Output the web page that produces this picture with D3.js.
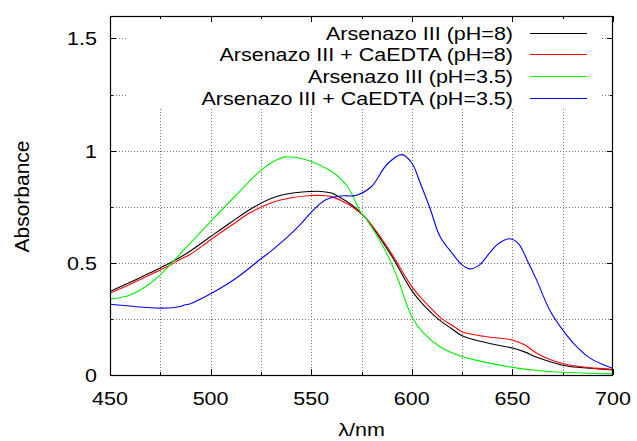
<!DOCTYPE html>
<html>
<head>
<meta charset="utf-8">
<script src="https://cdn.jsdelivr.net/npm/d3@7/dist/d3.min.js"></script>
<style>
  html, body { margin: 0; padding: 0; background: #fff; }
  text { font-family: "Liberation Sans", Arial, Helvetica, sans-serif; fill: #000; }
</style>
</head>
<body>
<svg id="chart" width="637" height="441"></svg>
<script>
// ---- data ----
const seriesNames = [
  "Arsenazo III (pH=8)",
  "Arsenazo III + CaEDTA (pH=8)",
  "Arsenazo III (pH=3.5)",
  "Arsenazo III + CaEDTA (pH=3.5)"
];
const seriesColors = ["#000000", "#ff0000", "#00ee00", "#0000ff"];

const blackWl = [450,460,470,480,490,500,510,520,530,540,550,555,560,565,570,576.7,582,590,600,606,613,620,625,632,640,650,656,662.5,670,677,688,700];
const blackAbs = [0.372,0.413,0.456,0.500,0.553,0.617,0.680,0.740,0.787,0.810,0.818,0.818,0.811,0.788,0.759,0.704,0.640,0.530,0.376,0.310,0.250,0.205,0.175,0.155,0.138,0.120,0.103,0.078,0.056,0.040,0.030,0.022];

const redWl = [450,460,470,480,485,490,500,510,520,530,540,550,555,560,565,570,576.7,582,590,600,606,615,620,625,632,640,650,656,662.5,670,677,688,700];
const redAbs = [0.365,0.405,0.447,0.490,0.516,0.538,0.603,0.665,0.725,0.767,0.790,0.800,0.800,0.795,0.777,0.752,0.704,0.645,0.540,0.394,0.330,0.250,0.222,0.193,0.178,0.167,0.156,0.135,0.095,0.065,0.047,0.033,0.025];

const greenWl = [450,460,470,475,487.5,500,512.5,525,531,537,545,550,560,568,575,576.7,587.5,593,600,606,614,625,637.5,650,662.5,675,687.5,700];
const greenAbs = [0.338,0.357,0.408,0.446,0.565,0.684,0.800,0.912,0.950,0.972,0.965,0.952,0.908,0.840,0.719,0.704,0.543,0.430,0.260,0.185,0.126,0.082,0.055,0.034,0.020,0.012,0.008,0.005];

const blueWl = [450,462,475,481,485,487,490,500,512.5,525,530,535,540,545,550,557,565,572,580,587.5,595,600,604,609,614,620,625,628.8,633.7,638.3,643,648.8,653,658,662,668.5,675,681,687.5,694,700];
const blueAbs = [0.315,0.305,0.298,0.300,0.305,0.312,0.318,0.362,0.430,0.518,0.552,0.590,0.630,0.675,0.725,0.780,0.798,0.800,0.840,0.937,0.982,0.945,0.860,0.744,0.617,0.543,0.491,0.473,0.491,0.540,0.585,0.607,0.585,0.499,0.424,0.290,0.201,0.135,0.082,0.050,0.030];

const xTicks = [450, 500, 550, 600, 650, 700];
const xGrid = [475, 500, 525, 550, 575, 600, 625, 650, 675];
const yTicks = [0, 0.5, 1, 1.5];
const yTickLabels = ["0", "0.5", "1", "1.5"];
const yGrid = [0.25, 0.5, 0.75, 1, 1.25, 1.5];

// ---- layout ----
const svg = d3.select("#chart");
const L = 110, R = 613, T = 16, B = 375;
const x = d3.scaleLinear().domain([450, 700]).range([L, R]);
const y = d3.scaleLinear().domain([0, 1.6]).range([B, T]);
const FS = 21.5;
const SQ = 0.88; // vertical squeeze of horizontal texts

function sqText(px, py, str, anchor) {
  return svg.append("text")
    .attr("transform", `translate(${px},${py}) scale(1,${SQ})`)
    .attr("text-anchor", anchor).attr("font-size", FS).text(str);
}

// grid
const grid = svg.append("g").attr("stroke", "#777").attr("stroke-width", 1).attr("stroke-dasharray", "1,2").attr("fill", "none");
xGrid.forEach(v => grid.append("line").attr("x1", Math.round(x(v)) + 0.5).attr("x2", Math.round(x(v)) + 0.5).attr("y1", T).attr("y2", B));
yGrid.forEach(v => grid.append("line").attr("x1", L).attr("x2", R).attr("y1", Math.round(y(v)) + 0.5).attr("y2", Math.round(y(v)) + 0.5));

// legend box (opaque, hides grid)
svg.append("rect").attr("x", 127).attr("y", T + 1).attr("width", 600 - 127).attr("height", 108 - T - 1).attr("fill", "#fff");

// ticks
const tk = svg.append("g").attr("stroke", "#000").attr("stroke-width", 1);
d3.range(450, 701, 25).forEach(v => {
  const len = (v % 50 === 0) ? 6 : 3;
  const px = Math.round(x(v)) + 0.5;
  tk.append("line").attr("x1", px).attr("x2", px).attr("y1", B).attr("y2", B - len);
  tk.append("line").attr("x1", px).attr("x2", px).attr("y1", T).attr("y2", T + len);
});
d3.range(0, 1.61, 0.25).forEach(v => {
  const len = (Math.abs(v * 2 - Math.round(v * 2)) < 1e-6) ? 6 : 3;
  const py = Math.round(y(v)) + 0.5;
  tk.append("line").attr("x1", L).attr("x2", L + len).attr("y1", py).attr("y2", py);
  tk.append("line").attr("x1", R).attr("x2", R - len).attr("y1", py).attr("y2", py);
});

// tick labels
xTicks.forEach(v => sqText(x(v), 405, String(v), "middle"));
yTicks.forEach((v, i) => sqText(L - 13, y(v) + 7, yTickLabels[i], "end"));

// curves
const line = d3.line().x(d => x(d[0])).y(d => y(d[1])).curve(d3.curveCatmullRom.alpha(0.5));
const allSeries = [
  [blackWl, blackAbs],
  [redWl, redAbs],
  [greenWl, greenAbs],
  [blueWl, blueAbs]
];
svg.append("clipPath").attr("id", "clip").append("rect").attr("x", L).attr("y", T).attr("width", R - L).attr("height", B - T);
allSeries.forEach((s, i) => {
  const pts = s[0].map((w, j) => [w, s[1][j]]);
  svg.append("path").datum(pts).attr("d", line).attr("fill", "none")
    .attr("stroke", seriesColors[i]).attr("stroke-width", 1.1).attr("clip-path", "url(#clip)");
});

// border
svg.append("rect").attr("x", L + 0.5).attr("y", T + 0.5).attr("width", R - L - 1).attr("height", B - T).attr("fill", "none").attr("stroke", "#000").attr("stroke-width", 1.2);

// legend
const legRows = [33, 54, 76, 98];
seriesNames.forEach((name, i) => {
  sqText(513, legRows[i] + 6.8, name, "end");
  svg.append("line").attr("x1", 530).attr("x2", 587).attr("y1", legRows[i] + 0.5).attr("y2", legRows[i] + 0.5)
    .attr("stroke", seriesColors[i]).attr("stroke-width", 1.2);
});

// axis titles
svg.append("text").attr("transform", `translate(29,${(T + B) / 2 + 1}) rotate(-90)`)
  .attr("text-anchor", "middle").attr("font-size", 21).text("Absorbance");
sqText((L + R) / 2, 436, "λ/nm", "middle");
</script>
</body>
</html>
